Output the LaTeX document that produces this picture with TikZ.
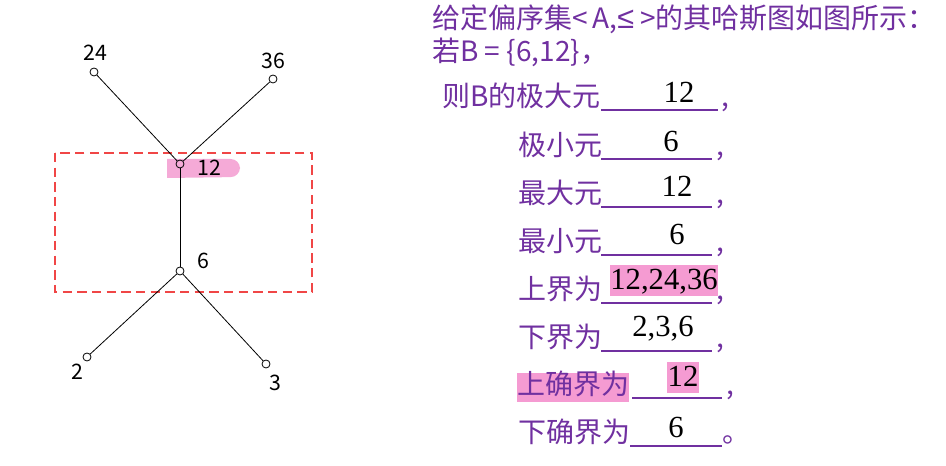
\documentclass[tikz,border=0pt]{standalone}
\usepackage{fontspec}
\newfontfamily\cjk{Noto Sans CJK SC}
\newfontfamily\ans{Liberation Serif}
\newfontfamily\symf{Liberation Sans}
\definecolor{qpurple}{RGB}{112,48,160}
\definecolor{hlpink}{RGB}{245,155,210}
\definecolor{blobpink}{RGB}{245,170,215}
\definecolor{boxred}{RGB}{240,70,70}

\begin{document}
\begin{tikzpicture}[x=0.75pt,y=-0.75pt]
        \tikzset{vertex/.style = {shape=circle,draw,line width=0.6pt,minimum size=6pt,inner sep=0pt}}
        \tikzset{edge/.style = {-,line width=0.6pt}}
        \tikzset{lab/.style = {font=\cjk\fontsize{16}{19}\selectfont,inner sep=0pt}}
        \tikzset{qtext/.style = {font=\cjk\fontsize{21}{25}\selectfont,text=qpurple,inner sep=0pt,anchor=base west}}
        \tikzset{answer/.style = {font=\ans\fontsize{23}{27}\selectfont,inner sep=0pt,anchor=base}}
        \tikzset{hl/.style = {fill=hlpink,inner xsep=0.5pt,inner ysep=0pt,text height=19pt,text depth=4.5pt}}
        \tikzset{uline/.style = {qpurple,line width=1.5pt}}
        \useasboundingbox (0,0) rectangle (946,466);

        % hasse diagram
        \fill[blobpink] (167,178) -- (167,159) [rounded corners=7pt] -- (240,159) -- (240,177) [sharp corners] -- cycle;
        \draw[boxred,line width=0.9pt,dash pattern=on 7pt off 4pt] (55,153) rectangle (312,292);

        \node[vertex] (24) at (94,72) {};
        \node[vertex] (36) at (273,79) {};
        \node[vertex] (12) at (180,164) {};
        \node[vertex] (6) at (180,271) {};
        \node[vertex] (2) at (87,357) {};
        \node[vertex] (3) at (266,364) {};

        \node[lab] (t24) at (95,53) {24};
        \node[lab] (t36) at (273,61) {36};
        \node[lab] (t12) at (209,168) {12};
        \node[lab] (t6) at (203,261) {6};
        \node[lab] (t2) at (77,372) {2};
        \node[lab] (t3) at (275,383) {3};

        \draw[edge] (24) to (12);
        \draw[edge] (36) to (12);
        \draw[edge] (12) to (6);
        \draw[edge] (6) to (2);
        \draw[edge] (6) to (3);

        % question
        \node[qtext] (q1) at (432,29) {给定偏序集<\,A,{\symf\fontsize{23}{25}\selectfont ≤}\ >的其哈斯图如图所示：};
        \node[qtext] (q2) at (432,62) {若B = \{6,12\}，};
        \node[qtext] (q3) at (442,107) {则B的极大元};
        \node[qtext] (q4) at (518,156) {极小元};
        \node[qtext] (q5) at (518,204) {最大元};
        \node[qtext] (q6) at (518,252) {最小元};
        \node[qtext] (q7) at (518,300) {上界为};
        \node[qtext] (q8) at (518,348) {下界为};
        \node[qtext,fill=hlpink,text height=16.5pt,text depth=5pt] (q9) at (517,395) {上确界为};
        \node[qtext] (q10) at (518,443) {下确界为};

        \draw[uline] (601,110) -- (718,110);
        \draw[uline] (601,159) -- (712,159);
        \draw[uline] (601,207) -- (712,207);
        \draw[uline] (601,255) -- (712,255);
        \draw[uline] (601,303) -- (712,303);
        \draw[uline] (601,351) -- (712,351);
        \draw[uline] (632,398) -- (722,398);
        \draw[uline] (630,446) -- (722,446);

        \node[qtext] (c3) at (721,107) {,};
        \node[qtext] (c4) at (716,156) {,};
        \node[qtext] (c5) at (716,204) {,};
        \node[qtext] (c6) at (716,252) {,};
        \node[qtext] (c7) at (716,300) {,};
        \node[qtext] (c8) at (716,348) {,};
        \node[qtext] (c9) at (726,395) {,};
        \node[qtext] (c10) at (722,443) {。};

        % answers
        \node[answer] (a3) at (679,103) {12};
        \node[answer] (a4) at (671,152) {6};
        \node[answer] (a5) at (677,197) {12};
        \node[answer] (a6) at (677,245) {6};
        \node[answer,hl] (a7) at (664,290) {12,24,36};
        \node[answer] (a8) at (663,337) {2,3,6};
        \node[answer,hl] (a9) at (683,387) {12};
        \node[answer] (a10) at (676,437) {6};
      \end{tikzpicture}
\end{document}
